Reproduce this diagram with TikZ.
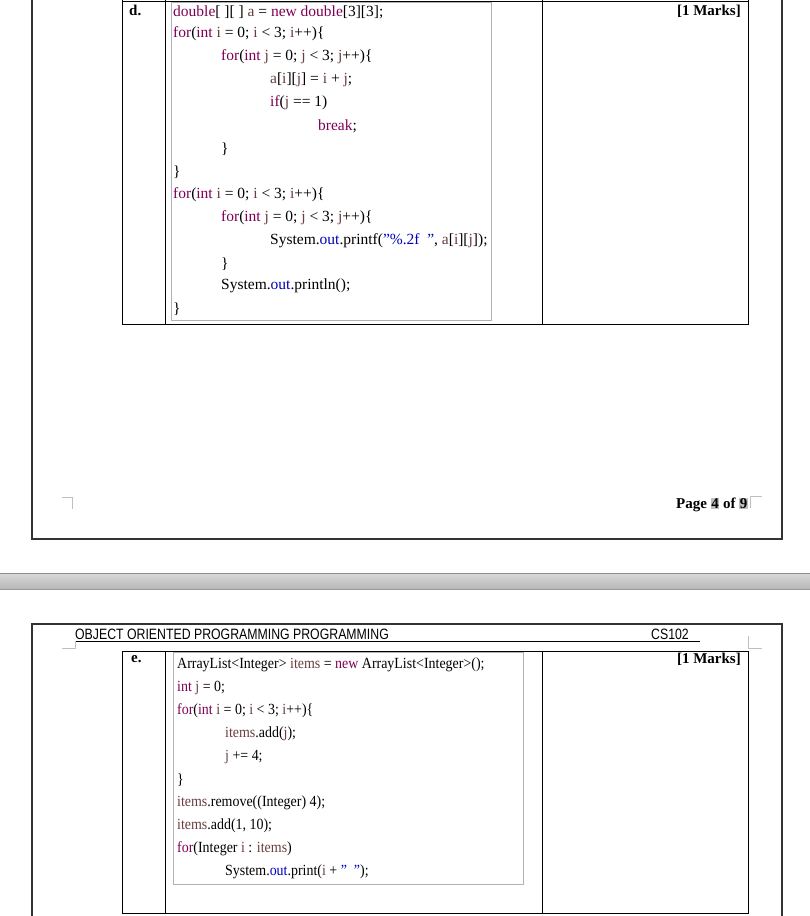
\documentclass[tikz,border=0pt]{standalone}
\usepackage{fontspec}
\setmainfont{Liberation Serif}
\newfontfamily\hdrfont{Liberation Sans}
\definecolor{kwc}{HTML}{7F0055}
\definecolor{vrc}{HTML}{6A3E3E}
\definecolor{otc}{HTML}{0000C0}
\newcommand{\Kw}[1]{\textcolor{kwc}{#1}}
\newcommand{\Vr}[1]{\textcolor{vrc}{#1}}
\newcommand{\Ot}[1]{\textcolor{otc}{#1}}
\newcommand{\Hl}[1]{{\setlength{\fboxsep}{0.5pt}\colorbox{black!25}{#1}}}
\tikzset{
  code/.style={anchor=west,inner sep=0pt,font=\fontsize{15.5}{17}\selectfont},
  codee/.style={anchor=west,inner sep=0pt,font=\fontsize{15.5}{17}\selectfont,xscale=0.9},
  frame/.style={line width=1.2pt,draw=black!80},
  tline/.style={line width=1pt,draw=black},
  cbox/.style={draw=black!30,line width=0.8pt},
  cornermark/.style={draw=black!25,line width=0.6pt},
  lbl/.style={anchor=north west,inner sep=0pt,font=\bfseries\fontsize{15}{17}\selectfont},
}
\begin{document}
\begin{tikzpicture}[x=1pt,y=-1pt]
\useasboundingbox[fill=white] (0,0) rectangle (810,916);
% top page
\draw[frame] (32,0) -- (32,539) -- (782,539) -- (782,0);
\draw[tline] (122,1) -- (748,1);
\draw[tline] (122,0) -- (122,324) -- (748,324) -- (748,0);
\draw[tline] (165,0) -- (165,324);
\draw[tline] (542,0) -- (542,324);
\draw[cbox] (171,2) rectangle (491,320);
\node[lbl] (dl) at (129,5) {d.};
\node[lbl,anchor=north east] (dm) at (741,5) {[1 Marks]};
\node[code] (d1) at (173,12) {\Kw{double}[ ][ ] \Vr{a} = \Kw{new double}[3][3];};
\node[code] (d2) at (173,34) {\Kw{for}(\Kw{int} \Vr{i} = 0; \Vr{i} < 3; \Vr{i}++)\{};
\node[code] (d3) at (221,57) {\Kw{for}(\Kw{int} \Vr{j} = 0; \Vr{j} < 3; \Vr{j}++)\{};
\node[code] (d4) at (270,80) {\Vr{a}[\Vr{i}][\Vr{j}] = \Vr{i} + \Vr{j};};
\node[code] (d5) at (270,103) {\Kw{if}(\Vr{j} == 1)};
\node[code] (d6) at (318,126) {\Kw{break};};
\node[code] (d7) at (221,149) {\}};
\node[code] (d8) at (173,172) {\}};
\node[code] (d9) at (173,195) {\Kw{for}(\Kw{int} \Vr{i} = 0; \Vr{i} < 3; \Vr{i}++)\{};
\node[code] (d10) at (221,218) {\Kw{for}(\Kw{int} \Vr{j} = 0; \Vr{j} < 3; \Vr{j}++)\{};
\node[code] (d11) at (270,241) {System.\Ot{out}.printf(\Ot{"\%.2f~~"}, \Vr{a}[\Vr{i}][\Vr{j}]);};
\node[code] (d12) at (221,264) {\}};
\node[code] (d13) at (221,286) {System.\Ot{out}.println();};
\node[code] (d14) at (173,309) {\}};
\node[lbl,anchor=east] (pg) at (748,505) {Page \Hl{4} of \Hl{9}};
\draw[cornermark] (62,497) -- (72,497) -- (72,509);
\draw[cornermark] (750,508) -- (750,496) -- (762,496);
% gray band
\shade[top color=black!15,bottom color=black!28] (0,573) rectangle (810,589);
\draw[black!45] (0,573) -- (810,573);
\draw[black!40] (0,589) -- (810,589);
% bottom page
\draw[frame] (32,916) -- (32,624) -- (782,624) -- (782,916);
\node[anchor=base west,inner sep=0pt,font=\hdrfont\fontsize{15}{17}\selectfont,xscale=0.82] (hdr) at (75,639) {OBJECT ORIENTED PROGRAMMING PROGRAMMING};
\node[anchor=base west,inner sep=0pt,font=\hdrfont\fontsize{15}{17}\selectfont,xscale=0.82] (cs) at (651,639) {CS102};
\draw[black,line width=0.6pt] (75,641) -- (700,641);
\draw[cornermark] (62,648) -- (75,648) -- (75,641);
\draw[cornermark] (748,636) -- (748,648) -- (762,648);
\draw[tline] (122,651) -- (748,651);
\draw[tline] (122,651) -- (122,913) -- (748,913) -- (748,651);
\draw[tline] (165,651) -- (165,913);
\draw[tline] (542,651) -- (542,913);
\draw[cbox] (173,652) rectangle (523,884);
\node[lbl] (el) at (131,655) {e.};
\node[lbl,anchor=north east] (em) at (741,653) {[1 Marks]};
\node[codee] (e1) at (177,665) {ArrayList<Integer> \Vr{items} = \Kw{new} ArrayList<Integer>();};
\node[codee] (e2) at (177,688) {\Kw{int} \Vr{j} = 0;};
\node[codee] (e3) at (177,711) {\Kw{for}(\Kw{int} \Vr{i} = 0; \Vr{i} < 3; \Vr{i}++)\{};
\node[codee] (e4) at (225,734) {\Vr{items}.add(\Vr{j});};
\node[codee] (e5) at (225,757) {\Vr{j} += 4;};
\node[codee] (e6) at (177,780) {\}};
\node[codee] (e7) at (177,803) {\Vr{items}.remove((Integer) 4);};
\node[codee] (e8) at (177,826) {\Vr{items}.add(1, 10);};
\node[codee] (e9) at (177,849) {\Kw{for}(Integer \Vr{i} : \Vr{items})};
\node[codee] (e10) at (225,872) {System.\Ot{out}.print(\Vr{i} + \Ot{"~~"});};
\end{tikzpicture}
\end{document}
